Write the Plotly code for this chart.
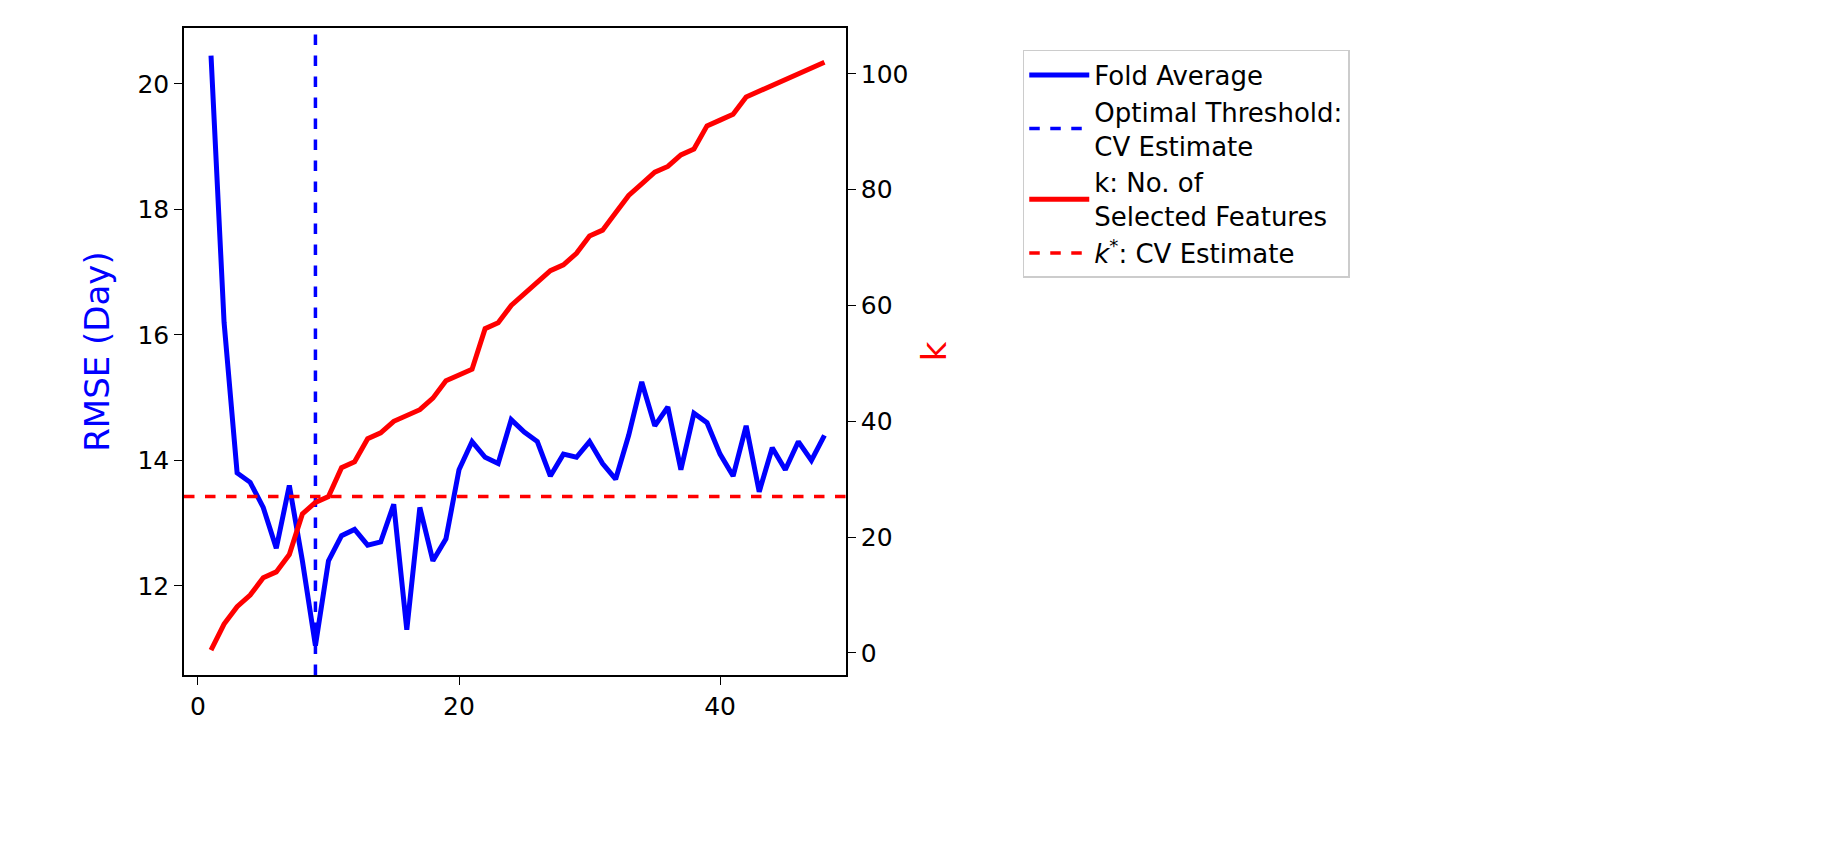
import plotly.graph_objects as go

x = list(range(1, 49))
rmse = [20.45, 16.2, 13.8, 13.65, 13.25, 12.6, 13.6, 12.4, 11.05, 12.4, 12.8, 12.9, 12.65, 12.7, 13.3, 11.3,
        13.25, 12.4, 12.75, 13.85, 14.3, 14.05, 13.95, 14.65, 14.45, 14.3, 13.75, 14.1, 14.05, 14.3, 13.95, 13.7,
        14.4, 15.25, 14.55, 14.85, 13.85, 14.75, 14.6, 14.1, 13.75, 14.55, 13.5, 14.2, 13.85, 14.3, 14.0, 14.4]
k = [0.5, 5, 8, 10, 13, 14, 17, 24, 26, 27, 32, 33, 37, 38, 40, 41, 42, 44, 47, 48, 49, 56, 57, 60, 62, 64,
     66, 67, 69, 72, 73, 76, 79, 81, 83, 84, 86, 87, 91, 92, 93, 96, 97, 98, 99, 100, 101, 102]
opt_threshold = 9
k_star = 27
xr = [-1.07, 49.65]
y1r = [10.58, 20.89]
y2r = [-3.8, 107.9]

fig = go.Figure()
fig.add_trace(go.Scatter(x=x, y=rmse, mode="lines", line=dict(color="blue", width=5), name="Fold Average"))
fig.add_trace(go.Scatter(x=[opt_threshold, opt_threshold], y=y1r, mode="lines",
                         line=dict(color="blue", width=3.5, dash="dash"), name="Optimal Threshold:<br>CV Estimate"))
fig.add_trace(go.Scatter(x=x, y=k, mode="lines", yaxis="y2", line=dict(color="red", width=5),
                         name="k: No. of<br>Selected Features"))
fig.add_trace(go.Scatter(x=xr, y=[k_star, k_star], mode="lines", yaxis="y2",
                         line=dict(color="red", width=3.5, dash="dash"), name="<i>k</i><sup>*</sup>: CV Estimate"))

ax = dict(showgrid=False, zeroline=False, showline=True, linecolor="black", linewidth=1.5,
          ticks="outside", ticklen=8, tickcolor="black", tickfont=dict(size=25, color="black"))
fig.update_layout(
    width=1844, height=868, plot_bgcolor="white", paper_bgcolor="white",
    font=dict(family="DejaVu Sans", color="black"),
    margin=dict(l=176, r=1006, t=20, b=201),
    xaxis=dict(range=xr, tickvals=[0, 20, 40], mirror=True, **ax),
    yaxis=dict(range=y1r, tickvals=[12, 14, 16, 18, 20], title=dict(text="RMSE (Day)", font=dict(size=34, color="blue"), standoff=18), **ax),
    yaxis2=dict(range=y2r, overlaying="y", side="right", tickvals=[0, 20, 40, 60, 80, 100],
                title=dict(text="k", font=dict(size=34, color="red"), standoff=15), **ax),
    legend=dict(x=1.267, y=0.966, xanchor="left", yanchor="top", font=dict(size=26),
                bordercolor="#cccccc", borderwidth=1.5, bgcolor="white", tracegroupgap=10,
                itemwidth=60),
    showlegend=True,
)
fig.write_html("out.html")
